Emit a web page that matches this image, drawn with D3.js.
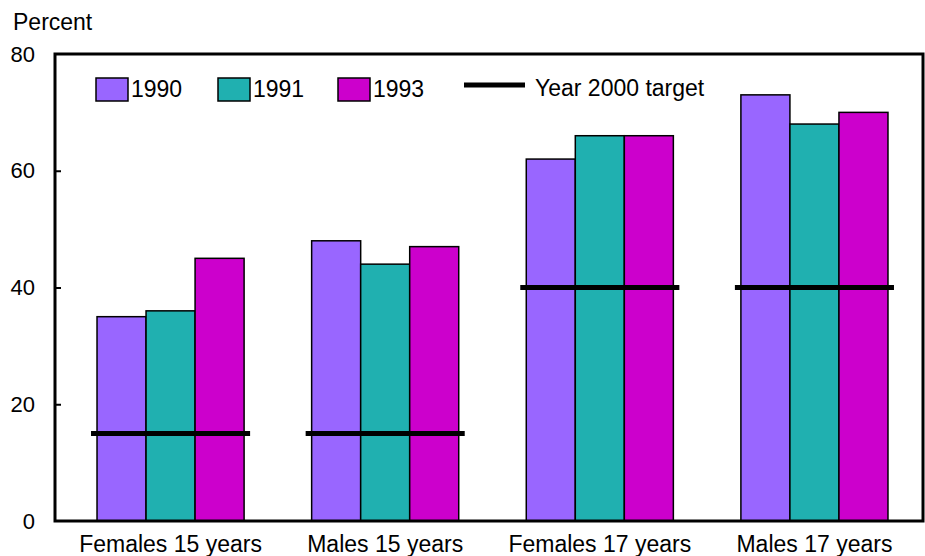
<!DOCTYPE html>
<html><head><meta charset="utf-8">
<script src="https://cdn.jsdelivr.net/npm/d3@7"></script>
<style>body{margin:0;background:#fff}text{font-family:"Liberation Sans",Arial,sans-serif;fill:#000}</style>
</head><body>
<svg id="c" width="925" height="556"></svg>
<script>
const categories = ["Females 15 years","Males 15 years","Females 17 years","Males 17 years"];
const years = ["1990","1991","1993"];
const v1990 = [35,48,62,73];
const v1991 = [36,44,66,68];
const v1993 = [45,47,66,70];
const target = [15,15,40,40];
const yTicks = [0,20,40,60,80];
const colors = ["#9966ff","#20b0b0","#cc00cc"];
const series = [v1990,v1991,v1993];

const svg = d3.select("#c");
const frame = {l:55,r:923,t:54,b:521};
const y = d3.scaleLinear().domain([0,80]).range([frame.b,frame.t]);
const p = 67.5/214.5;
const x0 = d3.scaleBand().domain(categories).range([63.25,921.75]).paddingInner(p).paddingOuter(p/2);
const x1 = d3.scaleBand().domain(years).range([0,x0.bandwidth()]);

const g = svg.append("g");
categories.forEach((c,i)=>{
  years.forEach((yr,j)=>{
    g.append("rect").attr("x",x0(c)+x1(yr)).attr("y",y(series[j][i]))
      .attr("width",x1.bandwidth()).attr("height",y(0)-y(series[j][i]))
      .attr("fill",colors[j]).attr("stroke","#000").attr("stroke-width",1.5);
  });
});
categories.forEach((c,i)=>{
  g.append("line").attr("x1",x0(c)-6).attr("x2",x0(c)+x0.bandwidth()+6)
    .attr("y1",y(target[i])).attr("y2",y(target[i])).attr("stroke","#000").attr("stroke-width",5);
});

// inward ticks
svg.append("g").attr("transform",`translate(${frame.l},0)`)
  .call(d3.axisRight(y).tickValues(yTicks.slice(1,4)).tickSize(6).tickFormat(""))
  .call(s=>{s.select(".domain").remove(); s.selectAll("line").attr("stroke","#000").attr("stroke-width",2);});

// frame
svg.append("rect").attr("x",frame.l).attr("y",frame.t).attr("width",frame.r-frame.l).attr("height",frame.b-frame.t)
  .attr("fill","none").attr("stroke","#000").attr("stroke-width",3);

// y tick labels
const ax = svg.append("g").attr("transform",`translate(${frame.l},0)`)
  .call(d3.axisLeft(y).tickValues(yTicks).tickSize(0).tickPadding(20).tickFormat(d3.format("d")));
ax.select(".domain").remove();
ax.selectAll("text").style("font-size","22px").style("font-family","Liberation Sans, Arial, sans-serif");

// x labels
categories.forEach(c=>{
  svg.append("text").attr("x",x0(c)+x0.bandwidth()/2).attr("y",552).attr("text-anchor","middle")
    .style("font-size","23px").text(c);
});
svg.append("text").attr("x",13).attr("y",30).style("font-size","23px").text("Percent");

// legend
const lx = [96,218,338];
years.forEach((yr,j)=>{
  svg.append("rect").attr("x",lx[j]).attr("y",78).attr("width",32).attr("height",23)
    .attr("fill",colors[j]).attr("stroke","#000").attr("stroke-width",1.5);
  svg.append("text").attr("x",lx[j]+35).attr("y",97).style("font-size","23px").text(yr);
});
svg.append("line").attr("x1",464).attr("x2",525).attr("y1",85).attr("y2",85).attr("stroke","#000").attr("stroke-width",5);
svg.append("text").attr("x",535).attr("y",96).style("font-size","23px").text("Year 2000 target");
</script>
</body></html>
